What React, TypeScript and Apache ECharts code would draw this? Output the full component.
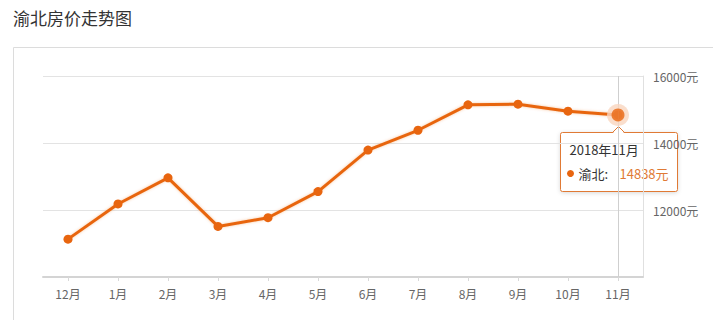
import React, { useEffect, useRef } from "react";
import * as echarts from "echarts";

const categories = ["12月", "1月", "2月", "3月", "4月", "5月", "6月", "7月", "8月", "9月", "10月", "11月"];
const prices = [11130, 12180, 12960, 11510, 11770, 12550, 13790, 14380, 15140, 15160, 14950, 14838];
const yTicks = { min: 10000, max: 16000, interval: 2000 };
const titleText = "渝北房价走势图";
const seriesName = "渝北";
const tooltipTitle = "2018年11月";
const highlightIndex = 11;

const ORANGE = "#e8650f";
const FONT = '"Noto Sans CJK SC", "Noto Sans", sans-serif';

export default function App() {
  const ref = useRef<HTMLDivElement>(null);
  useEffect(() => {
    if (!ref.current) return;
    const chart = echarts.init(ref.current, null, { renderer: "svg" });
    const hl = prices.map((v, i) => (i === highlightIndex ? v : null));
    const baseGraphic = [
      {
        type: "rect",
        shape: { x: 13.5, y: 47.5, width: 900, height: 400 },
        style: { fill: "none", stroke: "#dcdcdc", lineWidth: 1 },
        silent: true,
        z: -10,
      },
      {
        type: "text",
        left: 13,
        top: 9,
        style: { text: titleText, fontSize: 17, fill: "#333", fontFamily: FONT },
      },
    ];
    chart.setOption({
      animation: false,
      backgroundColor: "#ffffff",
      textStyle: { fontFamily: FONT },
      grid: { left: 43, right: 70, top: 76, bottom: 43 },
      xAxis: {
        type: "category",
        data: categories,
        boundaryGap: true,
        axisLine: { show: true, lineStyle: { color: "#d4d4d4", width: 2 } },
        axisTick: { show: true, alignWithLabel: true, length: 4, lineStyle: { color: "#d8d8d8" } },
        axisLabel: { color: "#666", fontSize: 12, margin: 10, fontFamily: FONT },
        splitLine: { show: false },
      },
      yAxis: {
        type: "value",
        position: "right",
        min: yTicks.min,
        max: yTicks.max,
        interval: yTicks.interval,
        axisLine: { show: true, lineStyle: { color: "#e0e0e0" } },
        axisTick: { show: false },
        axisLabel: {
          color: "#666",
          fontSize: 12,
          margin: 10,
          fontFamily: FONT,
          formatter: (v: number) => (v === yTicks.min ? "" : v + "元"),
        },
        splitLine: { show: true, lineStyle: { color: "#e3e3e3" } },
      },
      graphic: baseGraphic,
      series: [
        {
          name: seriesName,
          type: "line",
          data: prices,
          symbol: "circle",
          symbolSize: 9,
          lineStyle: { color: ORANGE, width: 3, shadowColor: "rgba(232,101,15,0.35)", shadowBlur: 3 },
          itemStyle: { color: ORANGE },
          markLine: {
            silent: true,
            symbol: "none",
            label: { show: false },
            lineStyle: { color: "#cfcfcf", width: 1, type: "solid" },
            data: [{ xAxis: categories[highlightIndex] }],
          },
          z: 3,
        },
        {
          type: "scatter",
          data: hl,
          symbol: "circle",
          symbolSize: 22,
          itemStyle: { color: "#f9d6bf" },
          z: 5,
        },
        {
          type: "scatter",
          data: hl,
          symbol: "circle",
          symbolSize: 13,
          itemStyle: { color: ORANGE },
          z: 6,
        },
      ],
    });

    const pt = chart.convertToPixel({ seriesIndex: 0 }, [highlightIndex, prices[highlightIndex]]) as number[];
    const cx = Math.round(pt[0]) + 0.5;
    const left = Math.round(pt[0] - 58) + 0.5;
    const top = Math.round(pt[1] + 17) + 0.5;
    const w = 117;
    const h = 59;
    chart.setOption({
      graphic: [
        ...baseGraphic,
        {
          type: "group",
          z: 100,
          children: [
            {
              type: "rect",
              shape: { x: left, y: top, width: w, height: h, r: 2 },
              style: {
                fill: "#fff",
                stroke: "#e07a35",
                lineWidth: 1,
                shadowColor: "rgba(0,0,0,0.15)",
                shadowBlur: 4,
                shadowOffsetY: 1,
              },
            },
            {
              type: "polygon",
              shape: { points: [[cx - 6, top + 1], [cx, top - 6], [cx + 6, top + 1]] },
              style: { fill: "#fff", stroke: "none" },
            },
            {
              type: "polyline",
              shape: { points: [[cx - 6, top], [cx, top - 6], [cx + 6, top]] },
              style: { fill: "none", stroke: "#e07a35", lineWidth: 1 },
            },
            {
              type: "text",
              x: left + 9,
              y: top + 17,
              style: {
                text: tooltipTitle,
                fontSize: 13,
                fill: "#333",
                fontFamily: FONT,
                verticalAlign: "middle",
              },
            },
            {
              type: "circle",
              shape: { cx: left + 10, cy: top + 41, r: 3.5 },
              style: { fill: ORANGE },
            },
            {
              type: "text",
              x: left + 18,
              y: top + 41,
              style: {
                text: seriesName + ":",
                fontSize: 13,
                fill: "#333",
                fontFamily: FONT,
                verticalAlign: "middle",
              },
            },
            {
              type: "text",
              x: left + 59,
              y: top + 41,
              style: {
                text: prices[highlightIndex] + "元",
                fontSize: 13,
                fill: "#e07a35",
                fontFamily: FONT,
                verticalAlign: "middle",
              },
            },
          ],
        },
      ],
    });

    return () => chart.dispose();
  }, []);
  return (
    <div
      ref={ref}
      style={{ position: "fixed", left: 0, top: 0, width: 713, height: 320, background: "#fff" }}
    />
  );
}
